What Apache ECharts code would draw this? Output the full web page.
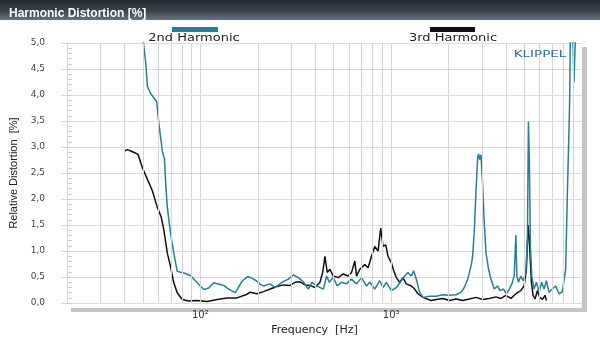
<!DOCTYPE html>
<html>
<head>
<meta charset="utf-8">
<script src="https://cdn.jsdelivr.net/npm/echarts@6/dist/echarts.min.js"></script>
<style>html,body{margin:0;padding:0;background:#fff}#c{width:600px;height:341px}</style>
</head>
<body>
<div id="c"></div>
<script>
// ---- data (frequency in Hz, distortion in %) ----
const h2Freq = [49.3, 50.3, 51.7, 52.8, 54.9, 59.0, 60.7, 63.2, 64.9, 65.7, 67.1, 69.8, 72.6, 75.6, 81.9, 88.8, 96.2, 104.2, 110.6, 117.5, 132.5, 140.7, 152.5, 165.3, 176.8, 186.4, 198.0, 205.9, 214.2, 232.2, 246.6, 267.3, 289.3, 307.2, 326.3, 346.5, 368.0, 383.4, 407.1, 440.6, 459.0, 473.6, 496.9, 521.4, 549.7, 583.7, 619.8, 658.2, 699.0, 742.2, 772.2, 820.1, 871.0, 906.2, 943.9, 1002, 1064, 1130, 1176, 1224, 1275, 1311, 1354, 1408, 1466, 1588, 1721, 1864, 2020, 2189, 2325, 2418, 2517, 2621, 2672, 2728, 2784, 2838, 2872, 2907, 2956, 3013, 3076, 3140, 3239, 3334, 3469, 3610, 3715, 3865, 4022, 4155, 4292, 4412, 4503, 4558, 4645, 4781, 4915, 5077, 5176, 5238, 5302, 5366, 5458, 5610, 5768, 5958, 6154, 6326, 6505, 6718, 6991, 7281, 7576, 7883, 8045, 8211, 8371, 8543, 8616, 8700, 8890, 9072, 9326, 9518];
const h2Val = [5.6, 5.0, 4.63, 4.16, 4.03, 3.87, 3.43, 2.92, 2.76, 2.35, 1.84, 1.34, 0.96, 0.61, 0.58, 0.53, 0.39, 0.26, 0.29, 0.39, 0.34, 0.27, 0.20, 0.42, 0.51, 0.48, 0.42, 0.36, 0.33, 0.37, 0.30, 0.40, 0.46, 0.54, 0.49, 0.41, 0.27, 0.40, 0.33, 0.27, 0.52, 0.40, 0.49, 0.33, 0.40, 0.37, 0.46, 0.37, 0.49, 0.33, 0.40, 0.27, 0.43, 0.30, 0.40, 0.24, 0.30, 0.43, 0.52, 0.59, 0.52, 0.62, 0.46, 0.21, 0.11, 0.13, 0.13, 0.16, 0.15, 0.16, 0.21, 0.30, 0.46, 0.71, 0.90, 1.41, 2.16, 2.79, 2.87, 2.76, 2.85, 2.29, 1.53, 0.96, 0.65, 0.46, 0.27, 0.33, 0.24, 0.27, 0.18, 0.27, 0.37, 0.52, 1.31, 0.52, 0.40, 0.52, 0.43, 0.59, 1.22, 3.49, 2.67, 1.09, 0.52, 0.27, 0.40, 0.21, 0.40, 0.27, 0.43, 0.21, 0.27, 0.33, 0.18, 0.21, 0.18, 0.65, 2.03, 3.3, 3.9, 5.3, 5.6, 4.24, 5.6, 5.6];

const h3Freq = [40.2, 41.5, 44.1, 47.1, 49.7, 53.2, 56.0, 59.5, 62.4, 64.4, 67.1, 69.8, 72.6, 75.6, 80.4, 87.0, 96.2, 108.5, 122.4, 138.0, 155.6, 175.5, 182.6, 198.0, 214.2, 232.2, 251.7, 272.5, 295.3, 313.6, 333.0, 353.7, 375.5, 398.8, 423.5, 437.4, 449.7, 462.3, 477.5, 496.9, 527.7, 560.5, 595.2, 619.8, 644.9, 658.2, 684.8, 727.4, 756.9, 788.5, 820.1, 853.3, 881.4, 906.2, 936.0, 962.3, 1002, 1031, 1064, 1108, 1152, 1200, 1275, 1327, 1380, 1466, 1621, 1721, 1864, 2020, 2189, 2371, 2569, 2784, 3013, 3267, 3541, 3760, 3993, 4241, 4503, 4781, 4974, 5113, 5219, 5282, 5346, 5431, 5542, 5677, 5838, 6008, 6199, 6403, 6505];
const h3Val = [2.93, 2.95, 2.91, 2.86, 2.60, 2.35, 2.16, 1.84, 1.65, 1.40, 0.96, 0.70, 0.39, 0.20, 0.07, 0.04, 0.05, 0.03, 0.07, 0.10, 0.10, 0.17, 0.21, 0.18, 0.22, 0.27, 0.32, 0.35, 0.34, 0.40, 0.41, 0.35, 0.34, 0.30, 0.40, 0.59, 0.90, 0.59, 0.65, 0.52, 0.49, 0.56, 0.52, 0.59, 0.81, 0.52, 0.65, 0.74, 0.68, 0.90, 1.09, 1.00, 1.44, 1.09, 1.12, 0.90, 0.78, 0.62, 0.49, 0.40, 0.49, 0.37, 0.33, 0.27, 0.18, 0.11, 0.05, 0.07, 0.09, 0.05, 0.08, 0.05, 0.08, 0.11, 0.07, 0.09, 0.12, 0.09, 0.15, 0.09, 0.18, 0.24, 0.33, 0.65, 1.50, 1.28, 0.90, 0.40, 0.15, 0.08, 0.24, 0.11, 0.07, 0.15, 0.05];

// vertical grid lines (log decade subdivisions)
const gridFreqs = [20, 30, 40, 50, 60, 70, 80, 90, 100, 200, 300, 400, 500, 600, 700, 800, 900, 1000, 2000, 3000, 4000, 5000, 6000, 7000, 8000, 9000];
const seriesNames = ['2nd Harmonic', '3rd Harmonic'];
const seriesColors = ['#2b7d92', '#111111'];

const zip = (a, b) => a.map((f, i) => [f, b[i]]);
const sup = {2: '\u00b2', 3: '\u00b3', 4: '\u2074'};

const chart = echarts.init(document.getElementById('c'), null, {renderer: 'canvas'});
const option = {
  animation: false,
  backgroundColor: '#fff',
  title: {
    text: 'Harmonic Distortion [%]',
    left: 4, top: 3,
    textStyle: {color: '#fff', fontSize: 12, fontWeight: 'bold', fontFamily: '"Liberation Sans Narrow", "Liberation Sans", Arial, sans-serif'}
  },
  graphic: [
    {type: 'rect', z: -10, shape: {x: 0, y: 0, width: 600, height: 20},
     style: {fill: new echarts.graphic.LinearGradient(0, 0, 0, 1, [
       {offset: 0, color: '#232a31'}, {offset: 0.55, color: '#3a444e'}, {offset: 1, color: '#66737f'}])}},
    {type: 'rect', z: -10, shape: {x: 71, y: 47, width: 516, height: 265}, style: {fill: '#c4c4c4'}},
    {type: 'rect', z: -9, shape: {x: 66, y: 43, width: 516, height: 265}, style: {fill: '#fff'}},
    {type: 'rect', shape: {x: 172, y: 27, width: 46, height: 5}, style: {fill: seriesColors[0]}},
    {type: 'text', x: 194, y: 38, scaleX: 1.3, style: {text: seriesNames[0], fill: '#222', font: '10px "DejaVu Sans", sans-serif', align: 'center', verticalAlign: 'middle'}},
    {type: 'rect', shape: {x: 430, y: 27, width: 45, height: 5}, style: {fill: seriesColors[1]}},
    {type: 'text', x: 453, y: 38, scaleX: 1.3, style: {text: seriesNames[1], fill: '#222', font: '10px "DejaVu Sans", sans-serif', align: 'center', verticalAlign: 'middle'}},
    {type: 'text', z: 10, x: 540, y: 55, scaleX: 1.5, style: {text: 'KLIPPEL', fill: '#2b6a88', font: '9px "DejaVu Sans", sans-serif', align: 'center', verticalAlign: 'middle'}}
  ],
  grid: {left: 66, right: 18, top: 43, bottom: 33, show: false},
  xAxis: {
    type: 'log', logBase: 10, min: 20, max: 10000,
    name: 'Frequency  [Hz]', nameLocation: 'middle', nameGap: 14,
    nameTextStyle: {color: '#222', fontSize: 11, fontFamily: '"DejaVu Sans", sans-serif', padding: [0, 20, 0, 0]},
    axisLine: {show: false},
    axisTick: {show: false},
    splitLine: {show: false},
    axisLabel: {
      showMinLabel: false, showMaxLabel: false, margin: 7,
      color: '#333', fontSize: 10, fontFamily: '"DejaVu Sans", sans-serif',
      formatter: v => { const e = Math.round(Math.log10(v)); return '10' + (sup[e] || ''); }
    }
  },
  yAxis: [
    {
      type: 'value', min: 0, max: 5, interval: 0.5,
      name: 'Relative Distortion  [%]', nameLocation: 'middle', nameRotate: 90, nameGap: 48,
      nameTextStyle: {color: '#222', fontSize: 11, fontFamily: '"Liberation Sans Narrow", "Liberation Sans", Arial, sans-serif'},
      axisLine: {show: true, lineStyle: {color: '#d8d8d8', width: 1}},
      axisTick: {show: true, inside: false, length: 6, lineStyle: {color: '#d8d8d8'}},
      splitLine: {show: true, lineStyle: {color: '#dcdcdc', width: 1}},
      axisLabel: {margin: 22, color: '#444', fontSize: 9, fontFamily: '"DejaVu Sans", sans-serif',
        formatter: v => v.toFixed(1).replace('.', ',')}
    },
    {
      type: 'value', min: 0, max: 5, interval: 0.5, position: 'left',
      axisLine: {show: false}, axisLabel: {show: false}, splitLine: {show: false},
      axisTick: {show: true, inside: true, length: 5, lineStyle: {color: '#d0d0d0'}},
      minorTick: {show: true, splitNumber: 5, length: 5, lineStyle: {color: '#d0d0d0'}}
    }
  ],
  series: [
    {
      type: 'line', name: 'grid', data: [], z: 1, silent: true,
      markLine: {
        silent: true, symbol: 'none', animation: false,
        label: {show: false},
        lineStyle: {color: '#d6d6d6', width: 1, type: 'solid'},
        emphasis: {disabled: true},
        data: gridFreqs.map(f => ({xAxis: f}))
      }
    },
    {
      type: 'line', name: seriesNames[1], data: zip(h3Freq, h3Val), z: 3,
      showSymbol: false, symbol: 'none', clip: true,
      lineStyle: {color: seriesColors[1], width: 1.5}
    },
    {
      type: 'line', name: seriesNames[0], data: zip(h2Freq, h2Val), z: 4,
      showSymbol: false, symbol: 'none', clip: true,
      lineStyle: {color: seriesColors[0], width: 1.5}
    }
  ]
};
chart.setOption(option);
</script>
</body>
</html>
